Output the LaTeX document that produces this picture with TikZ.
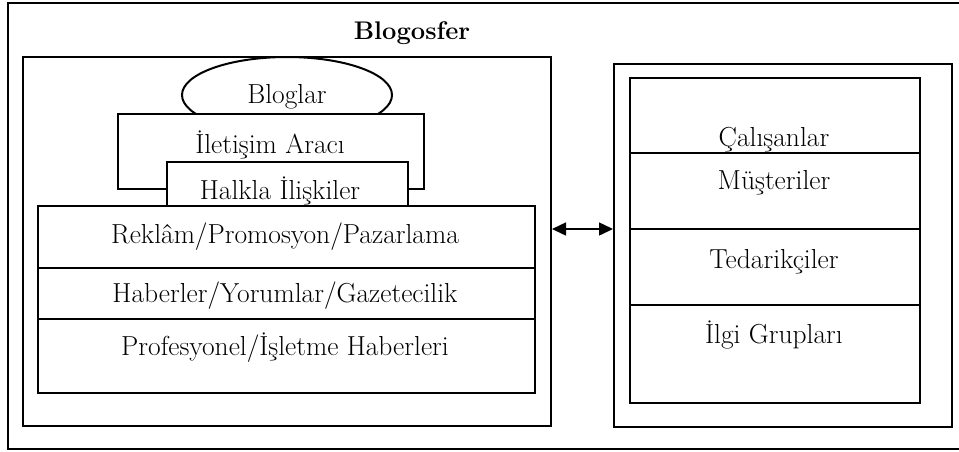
\documentclass[tikz,border=0pt]{standalone}
\usepackage{tikz}
\usetikzlibrary{shapes.geometric,arrows.meta}

\tikzset{
  kutu/.style={draw, line width=2pt, fill=white, inner sep=0pt, anchor=north west},
  yazi/.style={font=\fontsize{27.5}{32}\selectfont, inner sep=0pt},
  cizgi/.style={line width=2pt},
}

\begin{document}
\begin{tikzpicture}[x=1pt, y=-1pt]
    \useasboundingbox (0,0) rectangle (959,451);

    % dis cerceve
    \draw[cizgi] (959,3) -- (8,3) -- (8,449) -- (959,449);
    \node[yazi, font=\fontsize{25.5}{30}\selectfont\bfseries] (baslik) at (412,33) {Blogosfer};

    % sol kutu
    \node[kutu, minimum width=528, minimum height=369] (blogosfer) at (22,56) {};
    \node[draw, ellipse, cizgi, fill=white, minimum width=210, minimum height=76, inner sep=0pt] (bloglar) at (287,95) {};
    \node[yazi] (bloglaryazi) at (287,97) {Bloglar};
    \node[kutu, minimum width=306, minimum height=75] (iletisim) at (117,113) {};
    \node[yazi] (iletisimyazi) at (270,145) {İletişim Aracı};
    \node[kutu, minimum width=241, minimum height=44] (halkla) at (166,161) {};
    \node[yazi] (halklayazi) at (280,191) {Halkla İlişkiler};

    \node[kutu, minimum width=497, minimum height=187] (medya) at (37,205) {};
    \draw[cizgi] (medya.west |- 0,268) -- (medya.east |- 0,268);
    \draw[cizgi] (medya.west |- 0,319) -- (medya.east |- 0,319);
    \node[yazi] (reklam) at (285,237) {Reklâm/Promosyon/Pazarlama};
    \node[yazi] (haber) at (285,296) {Haberler/Yorumlar/Gazetecilik};
    \node[yazi] (profesyonel) at (285,348) {Profesyonel/İşletme Haberleri};

    % sag kutu
    \node[kutu, minimum width=338, minimum height=363] (paydas) at (613,63) {};
    \node[kutu, minimum width=290, minimum height=325] (paydasic) at (629,77) {};
    \draw[cizgi] (paydasic.west |- 0,153) -- (paydasic.east |- 0,153);
    \draw[cizgi] (paydasic.west |- 0,229) -- (paydasic.east |- 0,229);
    \draw[cizgi] (paydasic.west |- 0,305) -- (paydasic.east |- 0,305);
    \node[yazi] (calisan) at (774,140) {Çalışanlar};
    \node[yazi] (musteri) at (774,183) {Müşteriler};
    \node[yazi] (tedarik) at (774,262) {Tedarikçiler};
    \node[yazi] (ilgi) at (774,335) {İlgi Grupları};

    % ok
    \draw[{Triangle[length=14pt,width=13pt]}-{Triangle[length=14pt,width=13pt]}, line width=1.5pt]
        (blogosfer.east |- 0,229) -- (paydas.west |- 0,229);
\end{tikzpicture}
\end{document}
